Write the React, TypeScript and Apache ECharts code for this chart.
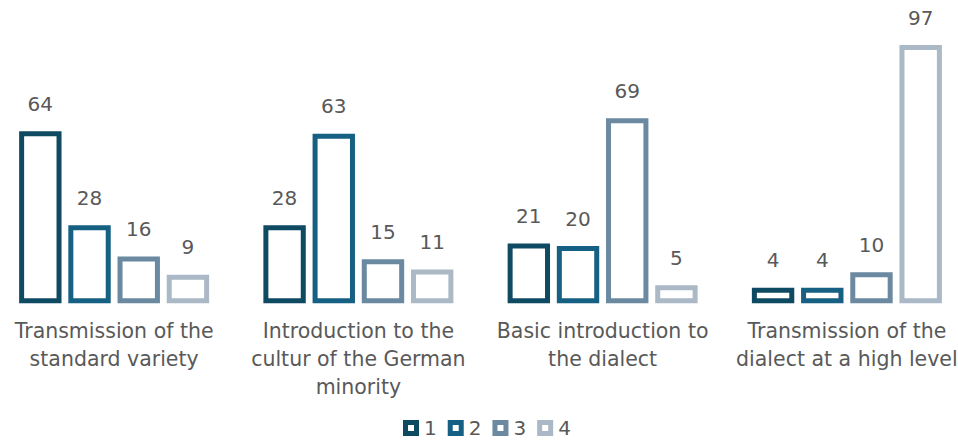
import React, { useEffect, useRef } from "react";
import * as echarts from "echarts";

const categories = [
  "Transmission of the\nstandard variety",
  "Introduction to the\ncultur of the German\nminority",
  "Basic introduction to\nthe dialect",
  "Transmission of the\ndialect at a high level",
];
const seriesNames = ["1", "2", "3", "4"];
const series1 = [64, 28, 21, 4];
const series2 = [28, 63, 20, 4];
const series3 = [16, 15, 69, 10];
const series4 = [9, 11, 5, 97];
const colors = ["#0f4a63", "#166083", "#6b89a0", "#abb8c6"];

const FONT = "DejaVu Sans";
const LEGEND_ICON = "path://M0,0H16V16H0Z M5,5V11H11V5Z";
const BAR_W = 37.4;
const PITCH = 49.2;
const BORDER = 5;

export default function App() {
  const ref = useRef<HTMLDivElement>(null);
  useEffect(() => {
    document.body.style.margin = "0";
    document.body.style.overflow = "hidden";
    const chart = echarts.init(ref.current!, null, { renderer: "svg" });
    const data = [series1, series2, series3, series4];
    chart.setOption({
      animation: false,
      backgroundColor: "#ffffff",
      textStyle: { fontFamily: FONT },
      grid: { left: 0, right: 0, top: 39.7, bottom: 140.2, containLabel: false },
      legend: {
        left: 406,
        top: 413,
        itemWidth: 16,
        itemHeight: 16,
        itemGap: 11,
        textStyle: { color: "#595959", fontSize: 20, lineHeight: 20, fontFamily: FONT },
        data: seriesNames.map((n, i) => ({
          name: n,
          icon: LEGEND_ICON,
          itemStyle: { color: colors[i], borderWidth: 0 },
        })),
      },
      xAxis: {
        type: "category",
        data: categories,
        axisLine: { show: false },
        axisTick: { show: false },
        axisLabel: {
          color: "#595959",
          fontSize: 20.5,
          fontFamily: FONT,
          lineHeight: 28,
          margin: 16,
          interval: 0,
        },
      },
      yAxis: {
        type: "value",
        min: 0,
        max: 100,
        show: false,
        splitLine: { show: false },
      },
      series: data.map((vals, i) => ({
        name: seriesNames[i],
        type: "custom",
        itemStyle: { color: colors[i] },
        encode: { x: 0, y: 1 },
        data: vals.map((v, ci) => [ci, v]),
        renderItem: (params: any, api: any) => {
          const ci = api.value(0);
          const v = api.value(1);
          const top = api.coord([ci, v]);
          const base = api.coord([ci, 0]);
          const cx = top[0] + (i - 1.5) * PITCH;
          return {
            type: "group",
            children: [
              {
                type: "rect",
                shape: { x: cx - BAR_W / 2, y: top[1], width: BAR_W, height: base[1] - top[1] },
                style: { fill: "#ffffff", stroke: colors[i], lineWidth: BORDER },
              },
              {
                type: "text",
                x: cx,
                y: top[1] - 20,
                style: {
                  text: String(v),
                  fill: "#595959",
                  fontSize: 20,
                  fontFamily: FONT,
                  align: "center",
                  verticalAlign: "bottom",
                },
              },
            ],
          };
        },
      })),
    });
    return () => chart.dispose();
  }, []);
  return (
    <div
      ref={ref}
      style={{ position: "absolute", left: -8, top: 0, width: 977, height: 441 }}
    />
  );
}
